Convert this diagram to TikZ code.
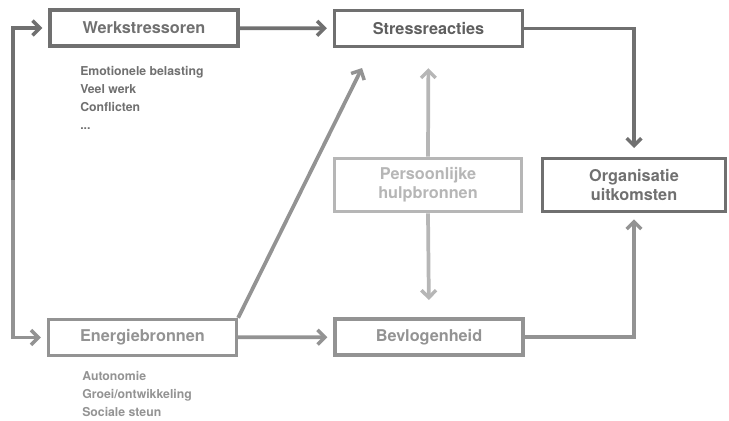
\documentclass[tikz,border=0pt]{standalone}
\usepackage{fontspec}
\setmainfont{TeX Gyre Heros}
\usetikzlibrary{arrows.meta}

\definecolor{darkline}{HTML}{707070}
\definecolor{midline}{HTML}{939393}
\definecolor{lightline}{HTML}{B6B6B6}

\begin{document}
\begin{tikzpicture}[
        x=0.75pt, y=-0.75pt,
        every node/.style={
            font=\bfseries
        },
        box/.style={
            draw, line width=2.5pt, minimum width=141pt, minimum height=27pt,
            font=\fontsize{12.2}{14.5}\selectfont\bfseries, align=center
        },
        bigbox/.style={
            box, minimum height=40pt
        },
        sublist/.style={
            anchor=north west, align=left, inner sep=0pt,
            font=\fontsize{9.2}{13.5}\selectfont\bfseries
        },
        link/.style={
            line width=2.8pt, -{Straight Barb[length=5.5pt,width=11pt,line width=2.6pt]},
            shorten >=4.5pt
        }
    ]
        \useasboundingbox (0,0) rectangle (729,421);

        % Top row
        \node[box, draw=darkline, text=darkline] (werk) at (144,28) {Werkstressoren};
        \node[box, draw=darkline, text=darkline!85!black] (stress) at (428.5,28.5) {Stressreacties};

        \node[sublist, text=darkline] (werklist) at (80,66) {Emotionele belasting\\Veel werk\\Conflicten\\...};

        % Middle row
        \node[bigbox, draw=lightline, text=lightline, minimum width=140.5pt] (pers) at (428,185) {Persoonlijke\\hulpbronnen};
        \node[bigbox, draw=darkline, text=darkline, minimum width=137.5pt] (org) at (634,185) {Organisatie\\uitkomsten};

        % Bottom row
        \node[box, draw=midline, text=midline] (ener) at (142.5,337.5) {Energiebronnen};
        \node[box, draw=midline, text=midline] (bev) at (429,337) {Bevlogenheid};

        \node[sublist, text=midline] (enerlist) at (82,371) {Autonomie\\Groei/ontwikkeling\\Sociale steun};

        % Feedback loop on the left
        \coordinate (split) at (13,180);
        \coordinate (diagtip) at (362,68);

        \draw[link, darkline] (split) |- (werk.west);
        \draw[link, midline] (split) |- (ener.west);

        \draw[link, darkline] (werk) -- (stress);
        \draw[link, darkline, shorten >=6.5pt] (stress.east) -| (org.north);

        \draw[link, midline, shorten >=0pt] (ener.north east) -- (diagtip);
        \draw[link, midline] (ener) -- (bev);
        \draw[link, midline, shorten >=4.5pt] (bev.east) -| (org.south);

        \draw[link, lightline, shorten >=15pt] (pers.north) -- (stress.south);
        \draw[link, lightline, shorten >=13pt] (pers.south) -- (bev.north);

    \end{tikzpicture}
\end{document}
